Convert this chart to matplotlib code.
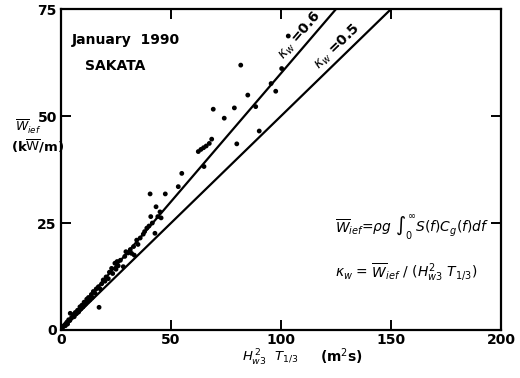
import matplotlib
matplotlib.use('Agg')
import matplotlib.pyplot as plt
import numpy as np

plt.rcParams['font.family'] = 'DejaVu Sans'
plt.rcParams['mathtext.fontset'] = 'dejavusans'

# measured points: x = Hw^2 T1/3 (m^2 s), y = Wief (kW/m)
x_pts = [0.5, 1.0, 1.5, 2.0, 2.2, 2.8, 3.0, 3.5, 4.0, 4.2, 4.8, 5.5, 6.0, 6.5,
         7.0, 7.5, 8.0, 8.6, 9.0, 9.5, 10.0, 10.5, 11.0, 11.7, 12.0, 12.5, 13.0,
         13.8, 14.2, 14.7, 15.5, 16.0, 17.0, 17.3, 17.8, 18.5, 19.2, 20.0, 20.5,
         21.5, 22.0, 23.0, 23.5, 24.5, 25.0, 25.5, 26.0, 27.0, 28.3, 29.0, 29.5,
         30.5, 31.5, 32.1, 33.0, 33.3, 34.4, 35.0, 36.0, 37.4, 38.0, 39.0, 40.0,
         40.8, 41.5, 42.7, 43.2, 44.0, 45.0, 45.5, 40.5, 47.4, 53.3, 54.9,
         62.4, 63.6, 64.8, 66.0, 67.4, 65.0, 68.5, 69.2, 74.2, 78.8, 79.9, 81.7,
         84.9, 88.5, 90.1, 95.5, 97.6, 100.3, 103.3]
y_pts = [0.4, 0.8, 1.1, 1.0, 1.5, 1.9, 1.4, 2.4, 2.2, 3.9, 2.9, 3.6, 3.1, 4.1,
         3.8, 4.6, 4.2, 5.4, 4.9, 5.8, 5.4, 6.5, 6.0, 7.2, 6.6, 7.6, 7.0,
         8.3, 7.6, 9.0, 8.6, 9.6, 10.1, 5.3, 9.6, 10.8, 11.7, 11.4, 12.4,
         12.0, 13.5, 14.4, 13.2, 15.6, 14.2, 16.0, 15.0, 16.3, 14.8, 17.2, 18.3,
         18.0, 18.8, 17.9, 19.5, 17.5, 21.0, 20.0, 21.5, 22.4, 23.0, 23.8, 24.3,
         26.5, 25.0, 22.6, 28.8, 26.5, 27.6, 26.2, 31.8, 31.8, 33.5, 36.6,
         41.7, 42.2, 42.6, 43.0, 43.6, 38.2, 44.6, 51.6, 49.5, 51.9, 43.5, 61.9,
         54.9, 52.2, 46.5, 57.6, 55.8, 61.1, 68.7]

kappas = [0.6, 0.5]
kappa_labels = [r'$\kappa_w$ =0.6', r'$\kappa_w$ =0.5']
kappa_label_x = [111, 128]

fig = plt.figure(figsize=(5.2, 3.78), dpi=100)
ax = fig.add_axes([0.1173, 0.127, 0.8462, 0.849])

ax.scatter(x_pts, y_pts, s=12, color='black', edgecolor='none', zorder=3)

for k in kappas:
    xs = np.array([0, 75 / k])
    ax.plot(xs, k * xs, color='black', lw=1.6)

ax.set_xlim(0, 200)
ax.set_ylim(0, 75)
ax.set_xticks([0, 50, 100, 150, 200])
ax.set_yticks([0, 25, 50, 75])
ax.tick_params(direction='in', length=7, width=1.4, top=True, right=True,
               labelsize=10)
ax.tick_params(axis='x', pad=2)
ax.tick_params(axis='y', pad=3)
for lab in ax.get_xticklabels() + ax.get_yticklabels():
    lab.set_fontweight('bold')
for sp in ax.spines.values():
    sp.set_linewidth(1.6)

# line labels rotated along each line
fig.canvas.draw()
for k, lab, lx in zip(kappas, kappa_labels, kappa_label_x):
    p1 = ax.transData.transform((0, 0))
    p2 = ax.transData.transform((50, 50 * k))
    ang = np.degrees(np.arctan2(p2[1] - p1[1], p2[0] - p1[0]))
    ax.annotate(lab, xy=(lx, lx * k), xytext=(-4, 7), textcoords='offset points',
                rotation=ang, rotation_mode='anchor', ha='center', va='center',
                fontsize=10, fontweight='bold')

ax.text(5, 66.8, 'January  1990', fontsize=10, fontweight='bold')
ax.text(11, 60.8, 'SAKATA', fontsize=10, fontweight='bold')

ax.text(124.5, 23, r'$\overline{W}_{ief}$=$\rho g\ \int_0^\infty S(f)C_g(f)df$',
        fontsize=10)
ax.text(124.5, 12.5, r'$\kappa_w$ = $\overline{W}_{ief}$ / ($H_{w3}^{2}\ T_{1/3}$)',
        fontsize=10)

fig.text(0.028, 0.652, r'$\overline{W}_{ief}$', fontsize=9)
fig.text(0.022, 0.6, r'(k$\overline{\mathrm{W}}$/m)', fontsize=9.5, fontweight='bold')
fig.text(0.465, 0.042, r'$H_{w3}^{\,2}\ \ T_{1/3}$', fontsize=9.5)
fig.text(0.615, 0.042, r'(m$^{2}$s)', fontsize=10, fontweight='bold')

fig.savefig('out.png', dpi=100)
